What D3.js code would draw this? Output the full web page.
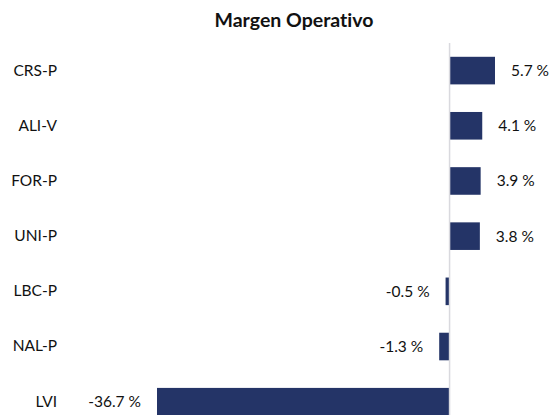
<!DOCTYPE html>
<html>
<head>
<meta charset="utf-8">
<script src="https://cdn.jsdelivr.net/npm/d3@7"></script>
<style>
  body { margin: 0; background: #fff; }
  svg { display: block; font-family: Lato, "Noto Sans", sans-serif; font-variant-ligatures: none; }
</style>
</head>
<body>
<div id="chart"></div>
<script>
// data
const empresas = ["CRS-P", "ALI-V", "FOR-P", "UNI-P", "LBC-P", "NAL-P", "LVI"];
const margen = [5.7, 4.1, 3.9, 3.8, -0.5, -1.3, -36.7];
const titulo = "Margen Operativo";

const width = 552, height = 415;

let svg = d3.select("#chart").append("svg")
    .attr("width", width)
    .attr("height", height);

// title
svg.append("text")
    .text(titulo)
    .attr("x", 294)
    .attr("y", 27)
    .attr("text-anchor", "middle")
    .style("font-size", "19.5px")
    .style("font-weight", "bold")
    .style("fill", "#111");

// scales
let x = d3.scaleLinear()
    .domain([-36.7, 5.7])
    .range([157, 495]);

let y = d3.scaleBand()
    .domain(empresas)
    .range([43, 429.3])
    .paddingInner(0.5)
    .paddingOuter(0.25);

let data = empresas.map((e, i) => ({name: e, value: margen[i]}));

// bars
svg.selectAll("rect.bar")
    .data(data)
    .enter()
    .append("rect")
    .attr("class", "bar")
    .attr("x", d => x(Math.min(0, d.value)))
    .attr("width", d => Math.abs(x(d.value) - x(0)))
    .attr("y", d => y(d.name))
    .attr("height", y.bandwidth())
    .style("fill", "#243467");

// zero line
svg.append("line")
    .attr("x1", x(0)).attr("x2", x(0))
    .attr("y1", 43).attr("y2", height)
    .style("stroke", "#d9d9de")
    .style("stroke-width", 1.5);

// category labels
let yAxis = d3.axisLeft(y).tickSize(0).tickPadding(0);
let gy = svg.append("g")
    .attr("transform", "translate(57,0)")
    .call(yAxis);
gy.select(".domain").remove();
gy.selectAll("text")
    .style("font-size", "15.5px")
    .style("font-family", "Lato, 'Noto Sans', sans-serif")
    .style("fill", "#111");

// value labels
svg.selectAll("text.val")
    .data(data)
    .enter()
    .append("text")
    .attr("class", "val")
    .attr("x", d => d.value >= 0 ? x(d.value) + 16 : x(d.value) - 16)
    .attr("y", d => y(d.name) + y.bandwidth() / 2)
    .attr("dy", "0.35em")
    .attr("text-anchor", d => d.value >= 0 ? "start" : "end")
    .text(d => d.value.toFixed(1) + " %")
    .style("font-size", "15.5px")
    .style("fill", "#111");
</script>
</body>
</html>
